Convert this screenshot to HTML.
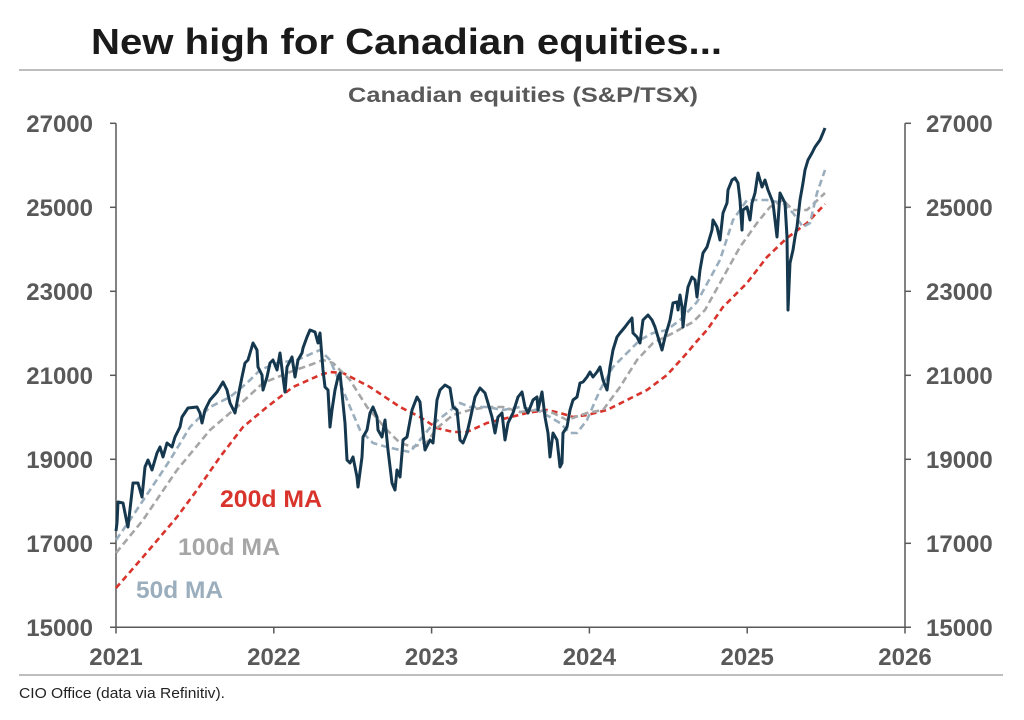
<!DOCTYPE html>
<html>
<head>
<meta charset="utf-8">
<style>
  html,body{margin:0;padding:0;background:#fff;}
  svg{display:block;}
  text{font-family:"Liberation Sans",Arial,Helvetica,sans-serif;}
</style>
</head>
<body>
<svg width="1024" height="720" viewBox="0 0 1024 720" xmlns="http://www.w3.org/2000/svg">
  <rect width="1024" height="720" fill="#fff"/>
  <!-- Title -->
  <text x="91" y="54" font-size="36" font-weight="bold" fill="#1a1a1a" textLength="631" lengthAdjust="spacingAndGlyphs">New high for Canadian equities...</text>
  <line x1="19" y1="70" x2="1003" y2="70" stroke="#a8a8a8" stroke-width="1.5"/>
  <!-- Subtitle -->
  <text x="348" y="102" font-size="21" font-weight="bold" fill="#595959" textLength="350" lengthAdjust="spacingAndGlyphs">Canadian equities (S&amp;P/TSX)</text>

  <!-- Axes -->
  <g stroke="#595959" stroke-width="1.5" fill="none">
    <line x1="116" y1="123.3" x2="116" y2="627.3"/>
    <line x1="905" y1="123.3" x2="905" y2="627.3"/>
    <line x1="110" y1="627.3" x2="911" y2="627.3"/>
    <!-- left ticks -->
    <line x1="110" y1="123.3" x2="116" y2="123.3"/>
    <line x1="110" y1="207.3" x2="116" y2="207.3"/>
    <line x1="110" y1="291.3" x2="116" y2="291.3"/>
    <line x1="110" y1="375.3" x2="116" y2="375.3"/>
    <line x1="110" y1="459.3" x2="116" y2="459.3"/>
    <line x1="110" y1="543.3" x2="116" y2="543.3"/>
    <!-- right ticks -->
    <line x1="905" y1="123.3" x2="911" y2="123.3"/>
    <line x1="905" y1="207.3" x2="911" y2="207.3"/>
    <line x1="905" y1="291.3" x2="911" y2="291.3"/>
    <line x1="905" y1="375.3" x2="911" y2="375.3"/>
    <line x1="905" y1="459.3" x2="911" y2="459.3"/>
    <line x1="905" y1="543.3" x2="911" y2="543.3"/>
    <!-- x ticks -->
    <line x1="116" y1="627.3" x2="116" y2="633.5"/>
    <line x1="273.8" y1="627.3" x2="273.8" y2="633.5"/>
    <line x1="431.6" y1="627.3" x2="431.6" y2="633.5"/>
    <line x1="589.4" y1="627.3" x2="589.4" y2="633.5"/>
    <line x1="747.2" y1="627.3" x2="747.2" y2="633.5"/>
    <line x1="905" y1="627.3" x2="905" y2="633.5"/>
  </g>

  <!-- Y labels left -->
  <g font-size="24" font-weight="bold" fill="#595959" text-anchor="end">
    <text x="93" y="132">27000</text>
    <text x="93" y="216">25000</text>
    <text x="93" y="300">23000</text>
    <text x="93" y="384">21000</text>
    <text x="93" y="468">19000</text>
    <text x="93" y="552">17000</text>
    <text x="93" y="636">15000</text>
  </g>
  <!-- Y labels right -->
  <g font-size="24" font-weight="bold" fill="#595959" text-anchor="start">
    <text x="926" y="132">27000</text>
    <text x="926" y="216">25000</text>
    <text x="926" y="300">23000</text>
    <text x="926" y="384">21000</text>
    <text x="926" y="468">19000</text>
    <text x="926" y="552">17000</text>
    <text x="926" y="636">15000</text>
  </g>
  <!-- X labels -->
  <g font-size="24" font-weight="bold" fill="#595959" text-anchor="middle">
    <text x="116" y="665">2021</text>
    <text x="273.8" y="665">2022</text>
    <text x="431.6" y="665">2023</text>
    <text x="589.4" y="665">2024</text>
    <text x="747.2" y="665">2025</text>
    <text x="905" y="665">2026</text>
  </g>

  <!-- Moving averages -->
  <polyline fill="none" stroke="#d8342c" stroke-width="2.6" stroke-dasharray="6,4"
    points="116,588 143,557 177,517 197,490 220,457 243,427 267,407 293,387 320,375 330,372 343,373 370,387 400,407 420,417 437,428 453,432 467,432 487,423 507,418 527,413 547,410 560,413 573,417 587,415 607,410 627,400 647,390 667,375 687,353 697,341 707,330 723,307 747,283 767,257 787,238 807,223 825,204"/>
  <polyline fill="none" stroke="#a6a6a6" stroke-width="2.6" stroke-dasharray="7,4"
    points="116,553 143,520 177,470 210,430 237,407 263,383 290,372 310,365 323,360 333,363 350,380 367,407 387,430 400,443 413,447 427,442 437,428 453,415 470,410 487,407 503,407 520,412 537,410 553,413 567,420 587,413 603,410 620,387 637,360 653,343 673,333 693,322 705,310 720,283 740,247 757,223 770,207 783,200 793,210 807,210 825,193"/>
  <polyline fill="none" stroke="#9aaebd" stroke-width="2.6" stroke-dasharray="7,4"
    points="116,540 130,520 150,490 170,460 190,427 210,407 230,397 247,383 260,370 277,363 297,360 313,353 320,350 330,360 340,383 350,407 360,430 373,443 387,447 400,450 410,452 420,440 433,424 447,413 460,403 470,407 487,407 503,410 520,407 537,410 550,417 560,423 570,433 577,433 587,420 600,390 613,367 627,353 640,340 653,333 667,330 680,320 697,302 720,260 733,220 747,200 767,200 783,203 793,213 803,227 810,223 817,193 825,170"/>

  <!-- Main series -->
  <polyline fill="none" stroke="#15384f" stroke-width="3" stroke-linejoin="round"
    points="116,531 117,523 118,502 123,503 127,523 128,527 133,483 138,483 142,497 145,467 148,460 152,470 157,453 160,447 163,457 167,443 172,447 175,437 180,427 182,417 188,408 197,407 200,413 202,423 205,410 210,400 217,392 223,382 227,390 230,403 235,413 238,397 242,377 245,363 248,360 253,343 257,350 258,367 262,375 263,390 267,377 270,363 273,360 277,370 280,353 283,377 285,392 287,367 292,357 295,377 298,360 302,353 303,348 307,337 310,330 315,332 318,343 320,333 323,370 325,387 328,390 330,427 332,410 335,390 338,377 340,373 342,393 345,423 347,460 350,463 353,457 357,477 358,487 362,457 363,437 367,430 370,413 373,407 377,417 378,430 382,437 385,420 388,450 392,483 395,490 397,470 400,477 402,453 403,440 407,437 412,410 417,397 420,402 423,433 425,450 430,440 433,443 437,400 440,390 445,385 450,388 453,407 457,410 460,440 463,443 467,433 470,420 475,397 480,388 485,393 488,403 492,417 495,433 498,417 502,413 505,440 508,423 513,413 518,397 522,392 525,407 528,413 533,400 537,397 538,410 542,392 545,417 548,433 550,457 553,433 557,440 560,467 562,463 563,433 567,427 570,410 573,400 577,397 580,383 583,382 587,377 590,372 593,377 597,372 600,367 603,380 607,390 610,367 613,350 617,337 620,333 625,327 628,323 632,318 633,333 637,337 640,343 643,320 648,315 652,320 655,327 658,337 662,350 665,337 668,327 670,320 673,303 677,302 678,310 680,295 682,307 683,327 685,307 688,287 692,277 695,280 697,297 700,270 703,253 707,247 712,230 713,220 717,227 720,240 723,213 727,203 728,190 732,180 735,178 738,183 740,200 742,230 743,210 747,207 750,220 752,203 755,193 758,173 762,187 765,180 768,190 772,200 773,203 777,237 780,193 782,197 785,203 787,237 788,310 790,263 793,250 795,237 797,227 800,200 803,183 805,170 808,160 812,153 815,147 820,140 823,133 825,128"/>

  <!-- Series labels -->
  <text x="220" y="507" font-size="24" font-weight="bold" fill="#d8342c" textLength="102" lengthAdjust="spacingAndGlyphs">200d MA</text>
  <text x="178" y="555" font-size="24" font-weight="bold" fill="#a6a6a6" textLength="102" lengthAdjust="spacingAndGlyphs">100d MA</text>
  <text x="136" y="598" font-size="24" font-weight="bold" fill="#9aaebd" textLength="87" lengthAdjust="spacingAndGlyphs">50d MA</text>

  <!-- Footer -->
  <line x1="19" y1="675" x2="1003" y2="675" stroke="#a8a8a8" stroke-width="1.5"/>
  <text x="19" y="698" font-size="15" fill="#222" textLength="206" lengthAdjust="spacingAndGlyphs">CIO Office (data via Refinitiv).</text>
</svg>
</body>
</html>
